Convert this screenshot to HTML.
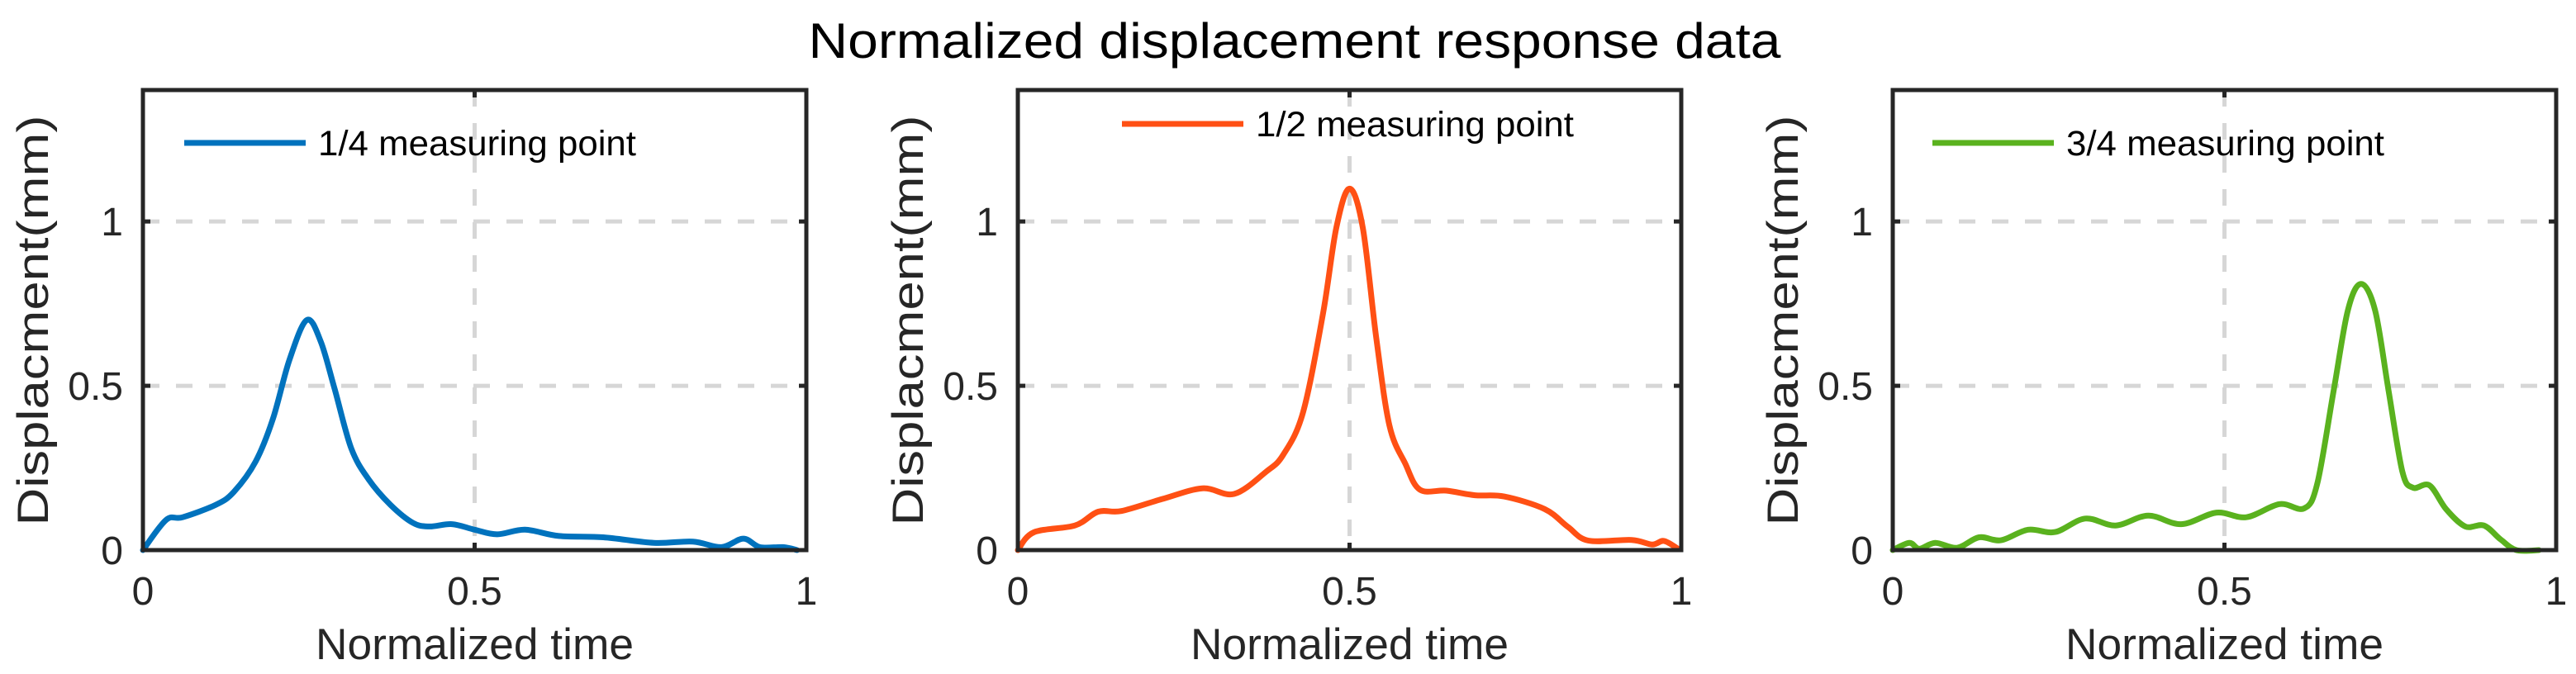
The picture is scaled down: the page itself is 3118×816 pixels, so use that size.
<!DOCTYPE html>
<html><head><meta charset="utf-8">
<style>
html,body{margin:0;padding:0;background:#fff;}
svg{display:block;font-family:"Liberation Sans",Arial,sans-serif;}
</style></head>
<body>
<svg id="chart" width="3118" height="816" viewBox="0 0 3118 816" xmlns="http://www.w3.org/2000/svg">
<text x="1567" y="70" font-size="60" text-anchor="middle" fill="#000" textLength="1177" lengthAdjust="spacingAndGlyphs">Normalized displacement response data</text>
</svg>
<script>
// ---- data ----
const xTicks = [0, 0.5, 1];
const xTickLabels = ["0", "0.5", "1"];
const yTicks = [0, 0.5, 1];
const yTickLabels = ["0", "0.5", "1"];
const seriesNames = ["1/4 measuring point", "1/2 measuring point", "3/4 measuring point"];
const quarterT = [0,0.035,0.06,0.11,0.137,0.17,0.196,0.221,0.247,0.268,0.289,0.314,0.34,0.373,0.407,0.432,0.466,0.5,0.534,0.576,0.627,0.694,0.77,0.829,0.872,0.905,0.93,0.965,0.986];
const quarterD = [0,0.092,0.1,0.138,0.177,0.27,0.4,0.58,0.70,0.635,0.49,0.31,0.216,0.138,0.083,0.072,0.079,0.062,0.048,0.062,0.043,0.039,0.022,0.026,0.009,0.035,0.009,0.009,0];
const halfT = [0,0.024,0.086,0.121,0.156,0.217,0.278,0.326,0.374,0.4,0.43,0.46,0.48,0.5,0.52,0.54,0.56,0.584,0.606,0.646,0.689,0.733,0.794,0.829,0.86,0.925,0.956,0.974,0.995];
const halfD = [0,0.054,0.075,0.117,0.119,0.155,0.188,0.171,0.238,0.29,0.42,0.72,0.98,1.1,0.98,0.65,0.38,0.263,0.184,0.181,0.167,0.163,0.125,0.071,0.029,0.031,0.017,0.028,0.004];
const threeQT = [0,0.025,0.04,0.064,0.097,0.13,0.163,0.204,0.245,0.29,0.336,0.385,0.435,0.488,0.533,0.583,0.62,0.64,0.665,0.686,0.706,0.727,0.747,0.768,0.784,0.809,0.834,0.863,0.891,0.916,0.94,0.974];
const threeQD = [0,0.022,0.004,0.022,0.007,0.039,0.03,0.062,0.055,0.096,0.075,0.105,0.079,0.114,0.1,0.14,0.127,0.203,0.49,0.73,0.81,0.73,0.49,0.24,0.19,0.197,0.125,0.072,0.075,0.033,0,0];

const svg = document.getElementById('chart');
const NS = 'http://www.w3.org/2000/svg';
function mk(tag, attrs, parent){const e=document.createElementNS(NS,tag);for(const k in attrs)e.setAttribute(k,attrs[k]);(parent||svg).appendChild(e);return e;}

const panels = [
 {left:173, t:quarterT, d:quarterD, color:'#0072BD', legX:50, legY:173},
 {left:1232, t:halfT, d:halfD, color:'#FF5014', legX:126, legY:150},
 {left:2291, t:threeQT, d:threeQD, color:'#5AB21E', legX:48, legY:173}
];
const W=803, TOP=109, BOT=666, YMAX=1.4;

function smoothPath(pts){
  let s='M'+pts[0][0].toFixed(1)+','+pts[0][1].toFixed(1);
  for(let i=0;i<pts.length-1;i++){
    const p0=pts[Math.max(0,i-1)],p1=pts[i],p2=pts[i+1],p3=pts[Math.min(pts.length-1,i+2)];
    const c1=[p1[0]+(p2[0]-p0[0])/6,p1[1]+(p2[1]-p0[1])/6];
    const c2=[p2[0]-(p3[0]-p1[0])/6,p2[1]-(p3[1]-p1[1])/6];
    s+=' C'+c1[0].toFixed(1)+','+c1[1].toFixed(1)+' '+c2[0].toFixed(1)+','+c2[1].toFixed(1)+' '+p2[0].toFixed(1)+','+p2[1].toFixed(1);
  }
  return s;
}

panels.forEach((p,pi)=>{
  const xs=v=>p.left+v*W;
  const ys=v=>BOT-(v/YMAX)*(BOT-TOP);
  const g=mk('g',{});
  
  
  // grid
  xTicks.forEach(v=>{ if(v>0&&v<1){const l=mk('line',{x1:xs(v),x2:xs(v),y1:TOP,y2:BOT,stroke:'#d6d6d6','stroke-width':5,'stroke-dasharray':'20 20'},g);
    
    }});
  yTicks.forEach(v=>{ if(v>0){const l=mk('line',{x1:p.left,x2:p.left+W,y1:ys(v),y2:ys(v),stroke:'#d6d6d6','stroke-width':5,'stroke-dasharray':'20 20'},g);
    
    }});
  // series
  const pts=p.t.map((t,i)=>[xs(t),ys(p.d[i])]);
  const path=mk('path',{d:smoothPath(pts),fill:'none',stroke:p.color,'stroke-width':7,'stroke-linejoin':'round','stroke-linecap':'round'},g);
  
  
  // axes box
  const box=mk('rect',{x:p.left,y:TOP,width:W,height:BOT-TOP,fill:'none',stroke:'#262626','stroke-width':5},g);
  
  
  // ticks + labels
  xTicks.forEach((v,i)=>{
    mk('line',{x1:xs(v),x2:xs(v),y1:BOT,y2:BOT-9,stroke:'#262626','stroke-width':5},g);
    mk('line',{x1:xs(v),x2:xs(v),y1:TOP,y2:TOP+9,stroke:'#262626','stroke-width':5},g);
    const tx=mk('text',{x:xs(v),y:732,'font-size':48,'text-anchor':'middle',fill:'#262626'},g);
    tx.textContent=xTickLabels[i];
    
    
  });
  yTicks.forEach((v,i)=>{
    mk('line',{x1:p.left,x2:p.left+9,y1:ys(v),y2:ys(v),stroke:'#262626','stroke-width':5},g);
    mk('line',{x1:p.left+W,x2:p.left+W-9,y1:ys(v),y2:ys(v),stroke:'#262626','stroke-width':5},g);
    const tx=mk('text',{x:p.left-24,y:ys(v)+17,'font-size':48,'text-anchor':'end',fill:'#262626'},g);
    tx.textContent=yTickLabels[i];
    
    
  });
  // axis titles
  const xt=mk('text',{x:p.left+W/2,y:798,'font-size':53,'text-anchor':'middle',fill:'#262626',textLength:385,lengthAdjust:'spacingAndGlyphs'},g);
  xt.textContent='Normalized time';
  
  
  const yx=p.left-115, yy=388;
  const yt=mk('text',{x:yx,y:yy,'font-size':53,'text-anchor':'middle',fill:'#262626',transform:'rotate(-90 '+yx+' '+yy+')',textLength:497,lengthAdjust:'spacingAndGlyphs'},g);
  yt.textContent='Displacment(mm)';
  
  
  // legend
  const lg=mk('g',{},g);
  
  
  mk('line',{x1:p.left+p.legX,x2:p.left+p.legX+147,y1:p.legY,y2:p.legY,stroke:p.color,'stroke-width':7},lg);
  const lt=mk('text',{x:p.left+p.legX+162,y:p.legY+15,'font-size':43,fill:'#000',textLength:385,lengthAdjust:'spacingAndGlyphs'},lg);
  lt.textContent=seriesNames[pi];
  
  
});
</script>
</body></html>
